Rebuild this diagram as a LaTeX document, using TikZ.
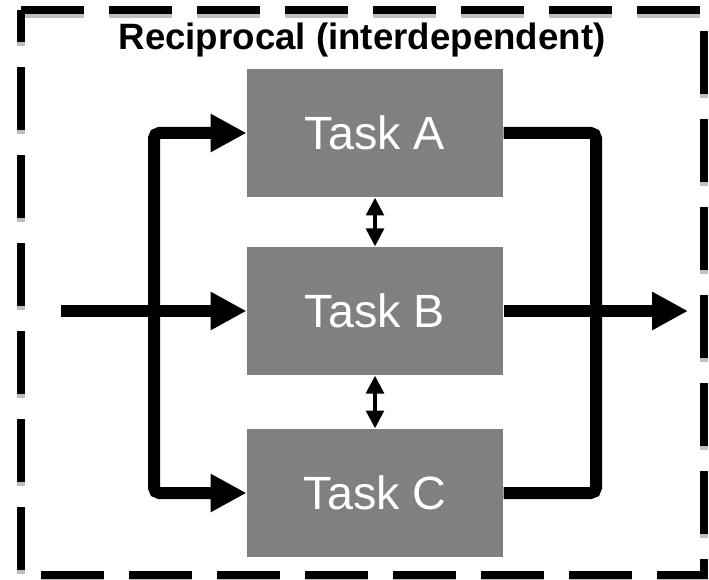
\documentclass[tikz,border=0pt]{standalone}
\usepackage{fontspec}
\setmainfont{Liberation Sans}
\usetikzlibrary{arrows.meta}

\tikzset{every picture/.style={line width=0.75pt}}
\tikzset{
  taskbox/.style={fill=black!50, text=white, inner sep=0pt, minimum width=192pt, minimum height=96pt, font=\fontsize{35}{40}\selectfont},
  flowline/.style={line width=9pt, rounded corners=4pt},
  bigtip/.style={-{Triangle[length=27pt,width=27pt]}},
  linktip/.style={line width=3.4pt, {Triangle[length=13.5pt,width=13pt]}-{Triangle[length=13.5pt,width=13pt]}}
}

\begin{document}
\begin{tikzpicture}[x=0.75pt,y=0.75pt,yscale=-1,xscale=1]
\useasboundingbox (0,0) rectangle (709,580);

%Shape: Dashed Frame [id:frame]
\draw [black!25, line width=6pt, dash pattern=on 47pt off 19pt] (21,14) -- (704,14) -- (704,579) -- (21,579) -- cycle ;
\draw [line width=6pt, dash pattern=on 47pt off 19pt] (21,10) -- (704,10) -- (704,575) -- (21,575) -- cycle ;

% Text Node
\draw (362,50) node [anchor=base, font=\fontsize{27.5}{30}\selectfont\bfseries] (title) {Reciprocal (interdependent)};

%Flowchart: Process
\node [taskbox] (taskA) at (375,133) {Task A};
%Flowchart: Process
\node [taskbox] (taskB) at (375,311) {Task B};
%Flowchart: Process
\node [taskbox] (taskC) at (375,493) {Task C};

\coordinate (input) at (61,311);
\coordinate (output) at (688,311);
\coordinate (split) at (154,311);
\coordinate (join) at (596,311);

%Straight Lines
\draw [flowline, bigtip] (input) -- (taskB.west) ;
%Straight Lines
\draw [flowline, bigtip] (taskB.east) -- (output) ;
%Elbow Lines
\draw [flowline, {Triangle[length=27pt,width=27pt]}-{Triangle[length=27pt,width=27pt]}] (taskA.west) -| (split) |- (taskC.west) ;
%Elbow Lines
\draw [flowline] (taskA.east) -| (join) |- (taskC.east) ;

%Straight Lines
\draw [linktip] (taskA.south) -- (taskB.north) ;
%Straight Lines
\draw [linktip] (taskB.south) -- (taskC.north) ;

\end{tikzpicture}
\end{document}
